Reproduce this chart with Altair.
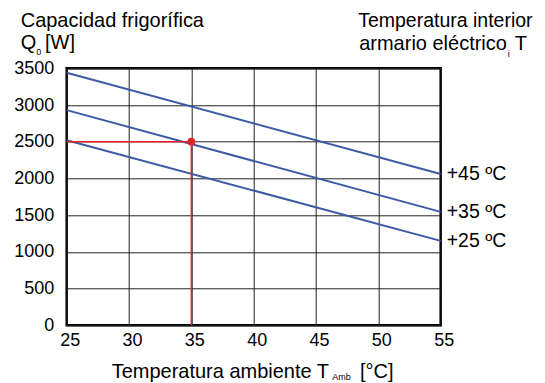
import altair as alt
import pandas as pd

# ---- data ----
series = ["+45 ºC", "+35 ºC", "+25 ºC"]
amb_start = [25, 25, 25]
amb_end = [55, 55, 55]
q_start = [3440, 2930, 2520]
q_end = [2060, 1545, 1150]

op_amb = [35]          # operating point ambient temperature
op_q = [2500]          # operating point capacity
ref_amb = [25]         # start of horizontal red guide
ref_q0 = [0]           # bottom of vertical red guide

x_ticks = [25, 30, 35, 40, 45, 50, 55]
y_ticks = [0, 500, 1000, 1500, 2000, 2500, 3000, 3500]

y_title_main = ["Capacidad frigorífica"]
y_title_sym = ["Q", "0", "[W]"]
legend_title = ["Temperatura interior", "armario eléctrico", "i", "T"]
x_title = ["Temperatura ambiente T", "Amb", "[°C]"]

FONT = "Liberation Sans"
BLUE = "#3b5ba5"
RED = "#e3232a"

rows = []
for s, a0, a1, q0, q1 in zip(series, amb_start, amb_end, q_start, q_end):
    rows.append({"serie": s, "amb": a0, "q": q0})
    rows.append({"serie": s, "amb": a1, "q": q1})
lines_df = pd.DataFrame(rows)
labels_df = pd.DataFrame({"serie": series, "amb": amb_end, "q": q_end})

xs = alt.Scale(domain=[25, 55], nice=False, zero=False)
ys = alt.Scale(domain=[0, 3500], nice=False)

X_AX = alt.Axis(values=x_ticks, title=None, ticks=False, domain=False, format="d",
                labelPadding=6, labelFontSize=18, labelFont=FONT, labelFlush=False,
                labelColor="black", grid=True, gridColor="#222",
                gridWidth=1, labelOffset=3)
Y_AX = alt.Axis(values=y_ticks, title=None, ticks=False, domain=False, format="d",
                labelPadding=13, labelFontSize=18, labelFont=FONT, labelFlush=False,
                labelColor="black", grid=True, gridColor="#222",
                gridWidth=1)


def X(field):
    return alt.X(field, type="quantitative", scale=xs, axis=X_AX)


def Y(field):
    return alt.Y(field, type="quantitative", scale=ys, axis=Y_AX)


lines = alt.Chart(lines_df).mark_line(color=BLUE, strokeWidth=2).encode(
    x=X("amb"), y=Y("q"), detail="serie:N")

series_labels = alt.Chart(labels_df).mark_text(
    align="left", baseline="middle", dx=6, fontSize=19.5, font=FONT, color="black"
).encode(x=X("amb"), y=Y("q"), text="serie:N")

op_df = pd.DataFrame({"a0": ref_amb, "a": op_amb, "q": op_q, "q0": ref_q0})
red_h = alt.Chart(op_df).mark_rule(color=RED, strokeWidth=1.5).encode(
    x=X("a0"), x2="a:Q", y=Y("q"))
red_v = alt.Chart(op_df).mark_rule(color=RED, strokeWidth=1.5).encode(
    x=X("a"), y=Y("q0"), y2="q:Q")
red_pt = alt.Chart(op_df).mark_point(filled=True, color=RED, size=60, opacity=1).encode(
    x=X("a"), y=Y("q"))


def txt(text, x, y, size=20):
    return alt.Chart(alt.Data(values=[{"t": text}])).mark_text(
        align="left", baseline="alphabetic", fontSize=size, font=FONT, color="black"
    ).encode(x=alt.value(x), y=alt.value(y), text="t:N")


texts = [
    txt(y_title_main[0], -46, -41),
    txt(y_title_sym[0], -46, -19),
    txt(y_title_sym[1], -30.5, -13, 9),
    txt(y_title_sym[2], -21.7, -19),
    txt(legend_title[0], 291.5, -41, 19.5),
    txt(legend_title[1], 292.5, -18),
    txt(legend_title[2], 441, -11, 9),
    txt(legend_title[3], 448, -18),
    txt(x_title[0], 45, 309.5),
    txt(x_title[1], 265.5, 312, 9),
    txt(x_title[2], 293.3, 309.5),
]

chart = alt.layer(lines, red_h, red_v, red_pt, series_labels, *texts).properties(
    width=374, height=257,
    background="white",
    autosize=alt.AutoSizeParams(type="none"),
    padding={"left": 58.7, "top": 60.3, "right": 96, "bottom": 58},
).configure_view(stroke="black", strokeWidth=2.5)

chart.save("out.html", embed_options={"renderer": "svg", "actions": False})
